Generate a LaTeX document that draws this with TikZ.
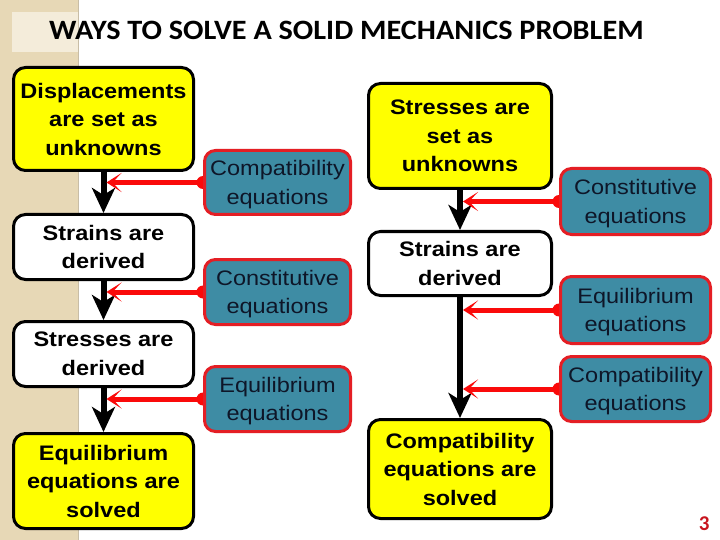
\documentclass[tikz,border=0pt]{standalone}
\usepackage{fontspec}
\setmainfont{Liberation Sans}
\newfontfamily\boxfont[FakeStretch=1.12]{Liberation Sans}
\newfontfamily\titlefont[FakeStretch=1.08]{Carlito}
\newfontfamily\pagefont{Carlito}
\usetikzlibrary{arrows.meta}
\definecolor{beige}{RGB}{231,216,182}
\definecolor{cream}{RGB}{244,236,218}
\definecolor{tealbox}{RGB}{62,140,164}
\definecolor{tred}{RGB}{228,30,36}
\definecolor{arrred}{RGB}{250,10,10}
\definecolor{navytext}{RGB}{14,22,40}
\definecolor{pnred}{RGB}{200,20,30}
\definecolor{yel}{RGB}{255,255,0}
\pgfdeclarelayer{bg}
\pgfdeclarelayer{conn}
\pgfsetlayers{bg,conn,main}
\tikzset{
  stepbox/.style={draw=black, line width=3pt, rounded corners=12pt, inner sep=0pt,
    align=center, text=black, font=\boxfont\bfseries\fontsize{21}{28.5}\selectfont},
  ybox/.style={stepbox, fill=yel},
  wbox/.style={stepbox, fill=white},
  eqbox/.style={draw=tred, line width=3pt, rounded corners=11pt, inner sep=0pt, fill=tealbox,
    align=center, text=navytext, text depth=0pt, font=\boxfont\fontsize{21}{28.5}\selectfont},
  blkarrow/.style={line width=6pt, draw=black, -{Stealth[length=25pt,width=23pt,inset=7pt]}},
  redarrow/.style={line width=5pt, draw=arrred, -{Stealth[length=15pt,width=19pt,inset=9pt]}, shorten >=3pt},
}
\begin{document}
\begin{tikzpicture}[x=1pt,y=-1pt]
\useasboundingbox (0,0) rectangle (720,540);
\begin{pgfonlayer}{bg}
\fill[white] (0,0) rectangle (720,540);
\fill[beige] (0,0) rectangle (78,540);
\fill[cream] (12,12) rectangle (78,52);
\draw[line width=1pt, color=beige!70!gray] (78,0) -- (78,540);
\end{pgfonlayer}

\node[anchor=base west, inner sep=0pt, font=\titlefont\bfseries\fontsize{28}{30}\selectfont] (title) at (49,40) {WAYS TO SOLVE A SOLID MECHANICS PROBLEM};

% left column
\node[ybox, minimum width=180pt, minimum height=103pt] (d1) at (103.5,119) {Displacements\\are set as\\unknowns};
\node[wbox, minimum width=180pt, minimum height=65pt] (d2) at (103.5,247) {Strains are\\derived};
\node[wbox, minimum width=180pt, minimum height=65pt] (d3) at (103.5,354) {Stresses are\\derived};
\node[ybox, minimum width=180pt, minimum height=95pt] (d4) at (103.5,481) {Equilibrium\\equations are\\solved};

% middle equations
\node[eqbox, minimum width=146pt, minimum height=64pt] (m1) at (277.5,182.5) {Compatibility\\equations};
\node[eqbox, minimum width=146pt, minimum height=65pt] (m2) at (277.5,292) {Constitutive\\equations};
\node[eqbox, minimum width=146pt, minimum height=65pt] (m3) at (277.5,399) {Equilibrium\\equations};

% right column
\node[ybox, minimum width=183pt, minimum height=105pt] (r1) at (460,136) {Stresses are\\set as\\unknowns};
\node[wbox, minimum width=183pt, minimum height=64pt] (r2) at (460,263.5) {Strains are\\derived};
\node[ybox, minimum width=183pt, minimum height=99pt] (r3) at (460,469) {Compatibility\\equations are\\solved};

% right equations
\node[eqbox, minimum width=150pt, minimum height=66pt] (s1) at (635.5,201.5) {Constitutive\\equations};
\node[eqbox, minimum width=150pt, minimum height=67pt] (s2) at (635.5,310) {Equilibrium\\equations};
\node[eqbox, minimum width=150pt, minimum height=65pt] (s3) at (635.5,389) {Compatibility\\equations};

\node[anchor=base east, font=\pagefont\bfseries\fontsize{21}{24}\selectfont, text=pnred] (pg) at (713,530) {3};

\begin{pgfonlayer}{conn}
\draw[blkarrow] (d1.south) -- (d2.north);
\draw[blkarrow] (d2.south) -- (d3.north);
\draw[blkarrow] (d3.south) -- (d4.north);
\draw[blkarrow] (r1.south) -- (r2.north);
\draw[blkarrow] (r2.south) -- (r3.north);
\foreach \e/\c in {m1/d1, m2/d2, m3/d3, s1/r1, s2/r2, s3/r2} {
  \fill[arrred] (\e.west) circle (6.5pt);
  \draw[redarrow] (\e.west) -- (\e.west -| \c.south);
}
\end{pgfonlayer}
\end{tikzpicture}
\end{document}
